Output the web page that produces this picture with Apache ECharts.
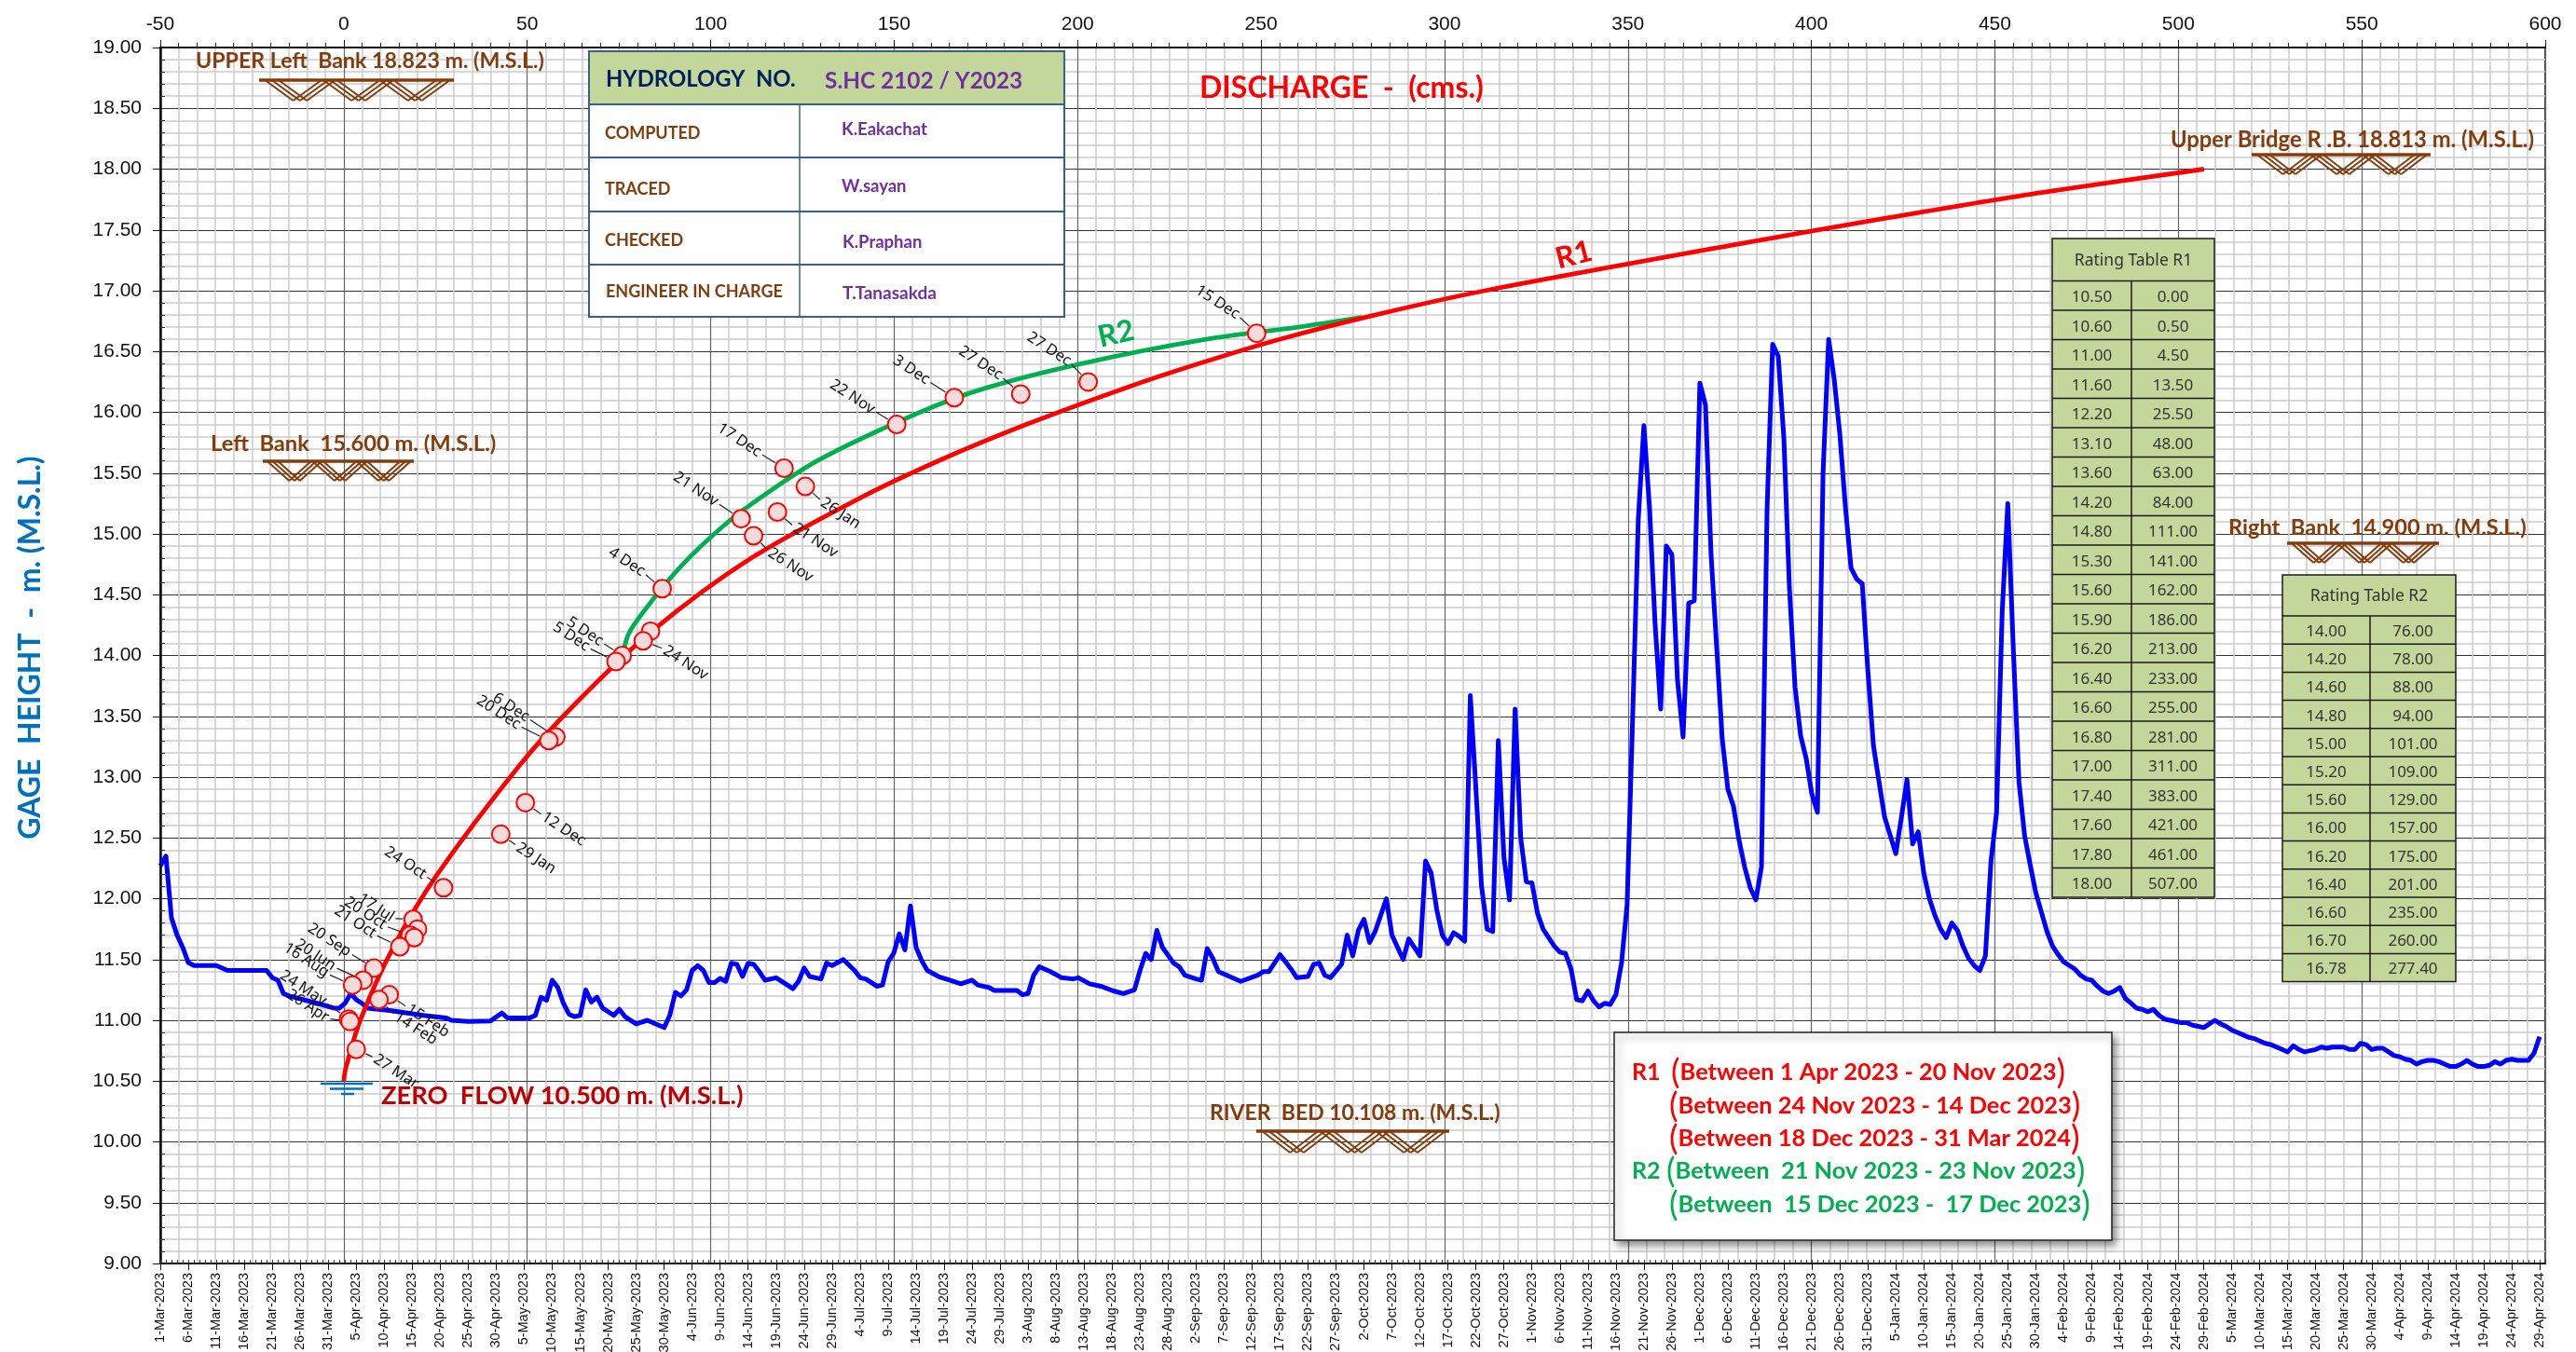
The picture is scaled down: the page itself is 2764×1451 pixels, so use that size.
<!DOCTYPE html>
<html>
<head>
<meta charset="utf-8">
<title>Rating curve S.HC 2102 / Y2023</title>
<style>
html, body { margin: 0; padding: 0; background: #fff; }
#main { width: 2764px; height: 1451px; }
</style>
<script src="https://cdn.jsdelivr.net/npm/echarts@6/dist/echarts.min.js"></script>
</head>
<body>
<div id="main"></div>
<script>
// rating table R1 (gage height, discharge)
var r1Gage = [10.50, 10.60, 11.00, 11.60, 12.20, 13.10, 13.60, 14.20, 14.80, 15.30, 15.60, 15.90, 16.20, 16.40, 16.60, 16.80, 17.00, 17.40, 17.60, 17.80, 18.00];
var r1Flow = [0.00, 0.50, 4.50, 13.50, 25.50, 48.00, 63.00, 84.00, 111.00, 141.00, 162.00, 186.00, 213.00, 233.00, 255.00, 281.00, 311.00, 383.00, 421.00, 461.00, 507.00];

// rating table R2
var r2Gage = [14.00, 14.20, 14.60, 14.80, 15.00, 15.20, 15.60, 16.00, 16.20, 16.40, 16.60, 16.70, 16.78];
var r2Flow = [76.00, 78.00, 88.00, 94.00, 101.00, 109.00, 129.00, 157.00, 175.00, 201.00, 235.00, 260.00, 277.40];

// measured discharge
var gaugeFlow = [248.8, 202.9, 184.5, 166.4, 150.7, 120.0, 125.8, 108.3, 118.2, 111.7, 86.8, 83.6, 81.6, 75.9, 74.2, 57.8, 55.9, 49.5, 42.8, 27.2, 18.9, 20.1, 18.1, 19.2, 15.3, 8.2, 5.3, 2.4, 12.4, 9.6, 1.3, 1.7, 3.4];
var gaugeHeight = [16.65, 16.25, 16.15, 16.12, 15.90, 15.54, 15.39, 15.125, 15.18, 14.985, 14.55, 14.20, 14.12, 14.00, 13.95, 13.33, 13.30, 12.79, 12.53, 12.09, 11.83, 11.75, 11.70, 11.68, 11.605, 11.43, 11.33, 11.29, 11.21, 11.17, 11.01, 10.99, 10.76];
var gaugeDate = ['15 Dec', '27 Dec', '27 Dec', '3 Dec', '22 Nov', '17 Dec', '26 Jan', '21 Nov', '21 Nov', '26 Nov', '4 Dec', '', '24 Nov', '5 Dec', '5 Dec', '6 Dec', '20 Dec', '12 Dec', '29 Jan', '24 Oct', '17 Jul', '', '20 Oct', '', '21 Oct', '20 Sep', '20 Jun', '16 Aug', '15 Feb', '14 Feb', '24 May', '26 Apr', '27 Mar'];

// daily stage, read at the corners of the line (day number from 1-Mar-2023)
var stageDay = [0, 1, 2, 3, 4, 5, 6, 10, 12, 19, 20, 21, 22, 23, 28, 31, 32, 33, 34, 35, 36, 37, 41, 47, 51, 52, 55, 59, 61, 62, 66, 67, 68, 69, 70, 71, 72, 73, 74, 75, 76, 77, 78, 79, 81, 82, 83, 85, 87, 89, 90, 91, 92, 93, 94, 95, 96, 97, 98, 99, 100, 101, 102, 103, 104, 105, 106, 107, 108, 110, 112, 113, 114, 115, 116, 118, 119, 120, 122, 124, 125, 126, 128, 129, 130, 131, 132, 133, 134, 135, 136, 137, 139, 141, 143, 145, 146, 148, 149, 153, 154, 155, 156, 157, 159, 161, 163, 164, 166, 168, 170, 172, 174, 175, 176, 177, 178, 179, 181, 182, 183, 185, 186, 187, 188, 189, 191, 193, 196, 197, 198, 200, 202, 203, 205, 206, 207, 208, 209, 211, 212, 213, 214, 215, 216, 217, 219, 220, 222, 223, 225, 226, 227, 228, 229, 230, 231, 232, 233, 234, 235, 236, 237, 238, 239, 240, 241, 242, 243, 244, 245, 246, 247, 248, 249, 250, 251, 252, 253, 254, 255, 256, 257, 258, 259, 260, 261, 262, 263, 264, 265, 266, 267, 268, 269, 270, 271, 272, 273, 274, 275, 276, 277, 278, 279, 280, 281, 282, 283, 284, 285, 286, 287, 288, 289, 290, 291, 292, 293, 294, 295, 296, 297, 298, 299, 300, 301, 302, 303, 304, 305, 306, 307, 308, 309, 310, 311, 312, 313, 314, 315, 316, 317, 318, 319, 320, 321, 322, 323, 324, 325, 326, 327, 328, 329, 330, 331, 332, 333, 334, 335, 336, 337, 338, 339, 340, 341, 342, 343, 344, 345, 346, 347, 348, 349, 350, 351, 352, 353, 354, 355, 356, 357, 358, 359, 360, 361, 362, 363, 364, 365, 366, 367, 368, 369, 370, 371, 372, 373, 374, 375, 376, 377, 378, 379, 380, 381, 382, 383, 384, 385, 386, 387, 388, 389, 390, 391, 392, 393, 394, 395, 396, 397, 398, 399, 400, 401, 402, 403, 404, 405, 406, 407, 408, 409, 410, 411, 412, 413, 414, 415, 416, 417, 418, 419, 420, 421, 422, 423, 424, 425];
var stageLevel = [12.27, 12.35, 11.84, 11.70, 11.60, 11.475, 11.45, 11.45, 11.41, 11.41, 11.35, 11.33, 11.22, 11.20, 11.14, 11.10, 11.10, 11.14, 11.22, 11.17, 11.14, 11.10, 11.08, 11.04, 11.02, 11.00, 10.99, 10.995, 11.06, 11.02, 11.02, 11.04, 11.19, 11.165, 11.33, 11.27, 11.14, 11.05, 11.03, 11.04, 11.25, 11.15, 11.19, 11.10, 11.04, 11.09, 11.03, 10.97, 11.00, 10.96, 10.94, 11.04, 11.23, 11.20, 11.25, 11.41, 11.45, 11.41, 11.31, 11.31, 11.345, 11.32, 11.47, 11.46, 11.36, 11.47, 11.46, 11.40, 11.33, 11.35, 11.29, 11.26, 11.32, 11.43, 11.36, 11.34, 11.47, 11.45, 11.50, 11.41, 11.35, 11.34, 11.28, 11.29, 11.48, 11.55, 11.71, 11.58, 11.94, 11.60, 11.49, 11.41, 11.36, 11.33, 11.30, 11.33, 11.29, 11.27, 11.245, 11.245, 11.21, 11.22, 11.37, 11.44, 11.40, 11.35, 11.34, 11.35, 11.30, 11.28, 11.245, 11.22, 11.25, 11.41, 11.55, 11.50, 11.74, 11.60, 11.47, 11.44, 11.37, 11.34, 11.33, 11.59, 11.51, 11.40, 11.36, 11.32, 11.37, 11.40, 11.40, 11.54, 11.42, 11.35, 11.36, 11.46, 11.47, 11.37, 11.35, 11.46, 11.70, 11.53, 11.74, 11.83, 11.64, 11.73, 12.00, 11.70, 11.50, 11.67, 11.53, 12.31, 12.21, 11.91, 11.70, 11.63, 11.72, 11.69, 11.65, 13.67, 12.90, 12.10, 11.75, 11.73, 13.30, 12.34, 11.99, 13.56, 12.50, 12.14, 12.13, 11.88, 11.75, 11.68, 11.61, 11.56, 11.55, 11.42, 11.17, 11.16, 11.24, 11.16, 11.11, 11.14, 11.13, 11.21, 11.47, 11.95, 13.50, 15.12, 15.89, 15.22, 14.26, 13.56, 14.90, 14.83, 13.80, 13.33, 14.43, 14.45, 16.24, 16.06, 14.83, 14.07, 13.31, 12.90, 12.76, 12.48, 12.26, 12.09, 11.99, 12.26, 15.20, 16.56, 16.46, 15.79, 14.55, 13.74, 13.34, 13.15, 12.86, 12.71, 15.50, 16.60, 16.27, 15.82, 15.22, 14.72, 14.63, 14.59, 13.88, 13.26, 12.96, 12.67, 12.52, 12.37, 12.67, 12.98, 12.45, 12.55, 12.21, 12.00, 11.86, 11.75, 11.68, 11.80, 11.74, 11.61, 11.51, 11.45, 11.41, 11.53, 12.31, 12.71, 14.36, 15.25, 14.04, 12.96, 12.52, 12.28, 12.05, 11.89, 11.73, 11.61, 11.54, 11.48, 11.45, 11.42, 11.37, 11.34, 11.33, 11.28, 11.24, 11.22, 11.24, 11.27, 11.18, 11.14, 11.10, 11.09, 11.07, 11.09, 11.04, 11.01, 11.00, 10.99, 10.98, 10.98, 10.96, 10.95, 10.94, 10.97, 11.00, 10.97, 10.95, 10.92, 10.90, 10.88, 10.86, 10.85, 10.83, 10.81, 10.80, 10.78, 10.76, 10.74, 10.79, 10.76, 10.74, 10.75, 10.76, 10.78, 10.77, 10.78, 10.78, 10.78, 10.76, 10.76, 10.81, 10.80, 10.76, 10.77, 10.77, 10.74, 10.71, 10.70, 10.68, 10.67, 10.64, 10.66, 10.67, 10.67, 10.66, 10.64, 10.62, 10.62, 10.64, 10.67, 10.64, 10.62, 10.62, 10.63, 10.66, 10.64, 10.67, 10.68, 10.67, 10.67, 10.67, 10.73, 10.865];

// date axis, one category a day
var monthNames = ['Jan', 'Feb', 'Mar', 'Apr', 'May', 'Jun', 'Jul', 'Aug', 'Sep', 'Oct', 'Nov', 'Dec'];
var dayLabels = [];
for (var n = 0; n <= 426; n++) {
    var dt = new Date(Date.UTC(2023, 2, 1 + n));
    dayLabels.push(dt.getUTCDate() + '-' + monthNames[dt.getUTCMonth()] + '-' + dt.getUTCFullYear());
}

// where each date label sits from its point, in px (layout, not data)
var labelDx = [-20, -20, -21, -28, -25, -26, 18, -26, 18, 17, -20, 0, 23, -22, -30, -30, -32, 19, 18, -20, -22, 0, -27, 0, -27, -26, -31, -27, 20, 18, -25, -24, 20];
var labelDy = [-19, -21, -19, -18, -15, -16, 16, -17, 16, 17, -17, 0, 9, -14, -15, -20, -16, 14, 13, -13, -1, 0, -10, 0, -13, -16, -14, -12, 14, 17, -18, -3, 9];

var BROWN = '#843c0c';
var TABLE_GREEN = '#c4d79b';
var LATO = 'Lato, Carlito, sans-serif';
var NOTO = '"Noto Sans", sans-serif';

var graphics = [];

function addText(txt, x, y, size, color, weight, extra) {
    var style = { text: txt, x: x, y: y, fill: color, font: (weight || 'normal') + ' ' + size + 'px ' + LATO, textVerticalAlign: 'middle' };
    var el = { type: 'text', style: style, z: 110 };
    if (extra) {
        for (var k in extra) {
            if (k === 'rotation' || k === 'originX' || k === 'originY') el[k] = extra[k];
            else style[k] = extra[k];
        }
    }
    graphics.push(el);
}

function addRect(x, y, w, h, fill, stroke, lw, extra) {
    var style = { fill: fill, stroke: stroke, lineWidth: lw };
    if (extra) for (var k in extra) style[k] = extra[k];
    graphics.push({ type: 'rect', shape: { x: x, y: y, width: w, height: h }, style: style, z: 100 });
}

function addLine(x1, y1, x2, y2, color, lw) {
    graphics.push({ type: 'line', shape: { x1: x1, y1: y1, x2: x2, y2: y2 }, style: { stroke: color, lineWidth: lw }, z: 105 });
}

// the bank symbol, three braced Vs under a bar
function addBank(left, right, top, bottom) {
    var w = right - left;
    var arm = w * 0.145;
    var off = w * 0.035;
    addLine(left, top, right, top, BROWN, 3.5);
    [0.21, 0.51, 0.80].forEach(function (c) {
        var cx = left + w * c;
        [-off, 0, off].forEach(function (o) {
            addLine(cx + o - arm, top, cx + o, bottom, BROWN, 2);
            addLine(cx + o, bottom, cx + o + arm, top, BROWN, 2);
        });
    });
}

function addCell(txt, x, y, size) {
    graphics.push({ type: 'text', z: 110, style: { text: txt, x: x, y: y, fill: '#333', font: size + 'px ' + NOTO, textAlign: 'center', textVerticalAlign: 'middle' } });
}

function addRatingTable(title, left, mid, right, top, headBottom, rowH, gage, flow) {
    var bottom = headBottom + rowH * gage.length;
    addRect(left, top, right - left, bottom - top, TABLE_GREEN, '#1a1a1a', 1.5);
    addLine(left, headBottom, right, headBottom, '#1a1a1a', 1.5);
    addLine(mid, headBottom, mid, bottom, '#1a1a1a', 1.5);
    addCell(title, (left + right) / 2, (top + headBottom) / 2 + 1, 17.5);
    gage.forEach(function (g, i) {
        var y = headBottom + rowH * i;
        if (i > 0) addLine(left, y, right, y, '#1a1a1a', 1.5);
        addCell(g.toFixed(2), (left + mid) / 2, y + rowH / 2 + 2, 17);
        addCell(flow[i].toFixed(2), (mid + right) / 2, y + rowH / 2 + 2, 17);
    });
}

// y axis title
graphics.push({ type: 'text', x: 33, y: 695, rotation: Math.PI / 2, z: 110, style: { text: 'GAGE  HEIGHT  -  m. (M.S.L.)', fill: '#0070c0', font: 'bold 32px ' + LATO, textAlign: 'center', textVerticalAlign: 'middle' } });

addText('DISCHARGE  -  (cms.)', 1287, 95, 32, '#ff0000', 'bold');
addText('R1', 1669, 273, 32, '#ff0000', 'bold', { rotation: 0.25, originX: 1692, originY: 273 });
addText('R2', 1178, 358, 32, '#00b050', 'bold', { rotation: 0.22, originX: 1199, originY: 358 });

// station table
addRect(632, 55, 510, 285, '#ffffff', '#366092', 2);
addRect(632, 55, 510, 57, TABLE_GREEN, '#366092', 2);
[169, 227, 284].forEach(function (y) { addLine(632, y, 1142, y, '#366092', 2); });
addLine(858, 112, 858, 340, '#366092', 1.5);
addText('HYDROLOGY  NO.', 650, 85, 23.8, '#002060', 'bold');
addText('S.HC 2102 / Y2023', 885, 87, 24.4, '#7030a0', 'bold');
addText('COMPUTED', 649, 143, 18, BROWN, 'bold');
addText('TRACED', 649, 203, 18, BROWN, 'bold');
addText('CHECKED', 649, 258, 18, BROWN, 'bold');
addText('ENGINEER IN CHARGE', 650, 313, 18, BROWN, 'bold');
addText('K.Eakachat', 903, 139, 18.5, '#7030a0', 'bold');
addText('W.sayan', 903, 200, 18.5, '#7030a0', 'bold');
addText('K.Praphan', 904, 260, 18.5, '#7030a0', 'bold');
addText('T.Tanasakda', 904, 315, 19, '#7030a0', 'bold');

// bank and bed notes
addText('UPPER Left  Bank 18.823 m. (M.S.L.)', 210, 66, 23.2, BROWN, 'bold');
addBank(278, 487, 86, 108);
addText('Left  Bank  15.600 m. (M.S.L.)', 226, 476, 23.7, BROWN, 'bold');
addBank(282, 444, 495, 516);
addText('Upper Bridge R .B. 18.813 m. (M.S.L.)', 2329, 150, 23.8, BROWN, 'bold');
addBank(2416, 2608, 166, 187);
addText('Right  Bank  14.900 m. (M.S.L.)', 2391, 566, 23.6, BROWN, 'bold');
addBank(2454, 2617, 583, 604);
addText('RIVER  BED 10.108 m. (M.S.L.)', 1298, 1195, 23, BROWN, 'bold');
addBank(1348, 1555, 1214, 1237);

// zero flow mark
addText('ZERO  FLOW 10.500 m. (M.S.L.)', 409, 1176, 27.3, '#c00000', 'bold');
addLine(344, 1163, 400, 1163, '#0070c0', 2.5);
addLine(354, 1168.5, 390, 1168.5, '#0070c0', 2.5);
addLine(366, 1174, 380, 1174, '#0070c0', 2.5);

addRatingTable('Rating Table R1', 2202, 2287, 2376, 256, 301.5, 31.5, r1Gage, r1Flow);
addRatingTable('Rating Table R2', 2449, 2543, 2635, 617, 661, 30.2, r2Gage, r2Flow);

// period box
addRect(1732, 1108, 534, 223, '#ffffff', '#222', 1.5, { shadowBlur: 8, shadowOffsetX: 4, shadowOffsetY: 5, shadowColor: 'rgba(0,0,0,0.45)' });
function addPeriod(txt, x, y, color) {
    graphics.push({ type: 'text', z: 110, style: { text: '{p|(}{t|' + txt + '}{p|)}', x: x, y: y, textVerticalAlign: 'middle', fill: color, rich: {
        p: { font: 'normal 36px ' + LATO, fill: color },
        t: { font: 'bold 25.4px ' + LATO, fill: color }
    } } });
}
addText('R1', 1751, 1151, 25, '#ff0000', 'bold');
addText('R2', 1751, 1257, 25, '#00b050', 'bold');
addPeriod('Between 1 Apr 2023 - 20 Nov 2023', 1793, 1151, '#ff0000');
addPeriod('Between 24 Nov 2023 - 14 Dec 2023', 1791, 1187, '#ff0000');
addPeriod('Between 18 Dec 2023 - 31 Mar 2024', 1791, 1222, '#ff0000');
addPeriod('Between  21 Nov 2023 - 23 Nov 2023', 1788, 1257, '#00b050');
addPeriod('Between  15 Dec 2023 -  17 Dec 2023', 1791, 1293, '#00b050');

var r1Data = r1Flow.map(function (q, i) { return [q, r1Gage[i]]; });
var r2Data = r2Flow.map(function (q, i) { return [q, r2Gage[i]]; });
var gaugeData = gaugeFlow.map(function (q, i) { return [q, gaugeHeight[i]]; });
var stageData = stageDay.map(function (d, i) { return [d, stageLevel[i]]; });

// leader dash and leaning date text for each measurement
function renderGaugeLabel(params, api) {
    var i = params.dataIndex;
    if (!gaugeDate[i]) return null;
    var p = api.coord([api.value(0), api.value(1)]);
    var dx = labelDx[i], dy = labelDy[i];
    var len = Math.sqrt(dx * dx + dy * dy);
    var ux = dx / len, uy = dy / len;
    return {
        type: 'group',
        children: [{
            type: 'line',
            shape: { x1: p[0] + ux * 11, y1: p[1] + uy * 11, x2: p[0] + ux * (len - 3), y2: p[1] + uy * (len - 3) },
            style: { stroke: '#222', lineWidth: 1.2 }
        }, {
            type: 'text',
            x: p[0] + dx,
            y: p[1] + dy,
            rotation: -33 * Math.PI / 180,
            style: {
                text: gaugeDate[i],
                fill: '#111',
                font: '16.5px ' + NOTO,
                textAlign: dx > 0 ? 'left' : 'right',
                textVerticalAlign: 'middle'
            }
        }]
    };
}

var myChart = echarts.init(document.getElementById('main'), null, { renderer: 'canvas' });
myChart.setOption({
    animation: false,
    backgroundColor: '#fff',
    tooltip: { show: false },
    grid: { left: 172, right: 33, top: 51, bottom: 95, outerBoundsMode: 'none', show: true, borderColor: '#444', borderWidth: 2, backgroundColor: 'transparent' },
    xAxis: [{
        type: 'value',
        position: 'top',
        min: -50,
        max: 600,
        interval: 50,
        axisLine: { show: true, onZero: false, lineStyle: { color: '#111', width: 2 } },
        axisTick: { show: true, length: 8, lineStyle: { color: '#111', width: 1 } },
        minorTick: { show: true, splitNumber: 10, length: 5, lineStyle: { color: '#222', width: 1 } },
        axisLabel: { color: '#111', fontSize: 21, fontFamily: 'Liberation Sans', margin: 14 },
        splitLine: { show: true, lineStyle: { color: '#666', width: 1.2 } },
        minorSplitLine: { show: true, lineStyle: { color: '#cccccc', width: 1.5 } }
    }, {
        type: 'category',
        position: 'bottom',
        data: dayLabels,
        boundaryGap: false,
        axisLine: { show: true, onZero: false, lineStyle: { color: '#111', width: 2 } },
        axisTick: { show: true, interval: 4, length: 7, lineStyle: { color: '#111', width: 1 } },
        axisLabel: { show: true, interval: 4, rotate: 90, color: '#111', fontSize: 14.5, fontFamily: 'Liberation Sans', margin: 10 },
        splitLine: { show: false }
    }, {
        // daily ticks on the inside of the date axis
        type: 'category',
        position: 'bottom',
        data: dayLabels,
        boundaryGap: false,
        axisLine: { show: false, onZero: false },
        axisTick: { show: true, inside: true, interval: 0, length: 4, lineStyle: { color: '#333', width: 1 } },
        axisLabel: { show: false },
        splitLine: { show: false }
    }],
    yAxis: [{
        type: 'value',
        min: 9,
        max: 19,
        interval: 0.5,
        axisLine: { show: true, onZero: false, lineStyle: { color: '#111', width: 2.5 } },
        axisTick: { show: true, length: 8, lineStyle: { color: '#111', width: 1 } },
        minorTick: { show: true, splitNumber: 5, length: -5, lineStyle: { color: '#333', width: 1 } },
        axisLabel: { color: '#111', fontSize: 21, fontFamily: 'Liberation Sans', margin: 20, formatter: function (v) { return v.toFixed(2); } },
        splitLine: { show: true, lineStyle: { color: '#333', width: 1.2 } },
        minorSplitLine: { show: true, lineStyle: { color: '#cccccc', width: 1.5 } }
    }],
    graphic: graphics,
    series: [{
        name: 'Stage',
        type: 'line',
        xAxisIndex: 1,
        yAxisIndex: 0,
        data: stageData,
        showSymbol: false,
        silent: true,
        z: 3,
        lineStyle: { color: '#0000ff', width: 5, join: 'round' }
    }, {
        name: 'R2',
        type: 'line',
        xAxisIndex: 0,
        yAxisIndex: 0,
        data: r2Data,
        smooth: 0.3,
        showSymbol: false,
        silent: true,
        z: 4,
        lineStyle: { color: '#00b050', width: 4.8 }
    }, {
        name: 'R1',
        type: 'line',
        xAxisIndex: 0,
        yAxisIndex: 0,
        data: r1Data,
        smooth: 0.3,
        showSymbol: false,
        silent: true,
        z: 5,
        lineStyle: { color: '#ff0000', width: 4.8 }
    }, {
        name: 'Date labels',
        type: 'custom',
        xAxisIndex: 0,
        yAxisIndex: 0,
        data: gaugeData,
        renderItem: renderGaugeLabel,
        clip: false,
        silent: true,
        z: 6,
        encode: { x: 0, y: 1 }
    }, {
        name: 'Measured',
        type: 'scatter',
        xAxisIndex: 0,
        yAxisIndex: 0,
        data: gaugeData,
        symbol: 'circle',
        symbolSize: 19,
        silent: true,
        z: 7,
        itemStyle: { color: '#f2dcdb', borderColor: '#ff0000', borderWidth: 2, opacity: 1 }
    }]
});
</script>
</body>
</html>
